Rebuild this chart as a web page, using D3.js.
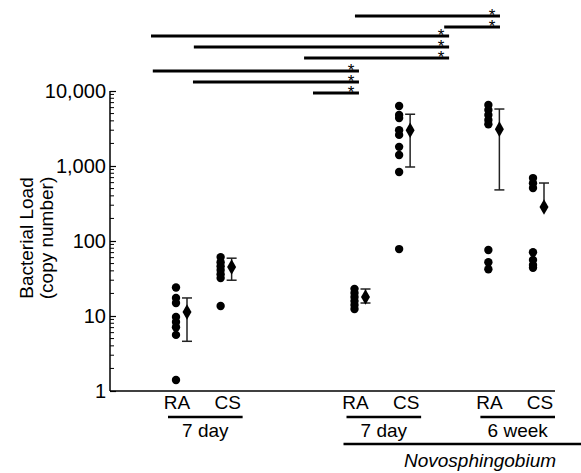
<!DOCTYPE html>
<html>
<head>
<meta charset="utf-8">
<script src="https://cdn.jsdelivr.net/npm/d3@7"></script>
<style>
  body { margin: 0; background: #fff; }
  svg { display: block; font-family: "Liberation Sans", Arial, sans-serif; }
</style>
</head>
<body>
<div class="chart"></div>
<script>
// group order: 7 day RA, 7 day CS, Novo 7 day RA, Novo 7 day CS, Novo 6 week RA, Novo 6 week CS
var groupPos = [0, 1, 4, 5, 7, 8];
var groupNames = ["RA", "CS", "RA", "CS", "RA", "CS"];

var points = [
    [24, 17.4, 14.9, 9.7, 8.3, 7.1, 5.6, 1.4],
    [61, 52, 46, 41, 36, 32, 13.6],
    [23, 20.3, 17.9, 15.8, 14, 12.4],
    [6300, 4800, 4350, 3000, 2600, 1800, 1400, 830, 78],
    [6500, 5600, 4800, 4100, 3600, 76, 52, 42],
    [690, 590, 510, 71, 56, 48, 44]
];
var means = [11.3, 45, 17.9, 3000, 3100, 284];
var errTop = [17.4, 59, 22.9, 4900, 5750, 593];
var errBottom = [4.6, 30, 14.9, 970, 480, null];

var timeLabels = ["7 day", "7 day", "6 week"];
var organism = "Novosphingobium";

var yTicks = [1, 10, 100, 1000, 10000];

// significance brackets: [from, to] in group-position units, top row first
var brackets = [
    [4.01, 7.26],
    [6.01, 7.26],
    [-0.56, 6.12],
    [0.40, 6.12],
    [2.87, 6.12],
    [-0.52, 4.10],
    [0.38, 4.10],
    [3.07, 4.10]
];
var bracketRows = [16, 27, 36, 47, 58, 71, 82, 93];

var svgWidth = 581;
var svgHeight = 473;

var svg = d3.select(".chart")
    .append("svg")
    .attr("width", svgWidth)
    .attr("height", svgHeight);

var x = d3.scaleLinear().domain([0, 8]).range([176, 533]);
var y = d3.scaleLog().domain([1, 10000]).range([391, 91]);

var axisLeftX = 110;
var axisRightX = 555;

// y axis
var leftAxis = d3.axisRight(y)
    .tickValues(yTicks)
    .tickSize(6)
    .tickFormat("");

var yAxis = svg.append("g")
    .attr("transform", `translate(${axisLeftX}, 0)`)
    .call(leftAxis);
yAxis.select(".domain").attr("d", `M0,${y(10000)}V${y(1)}`).attr("stroke-width", 1.5);
yAxis.selectAll(".tick line").attr("stroke-width", 1.2);

var minor = [];
for (var dec = 1; dec < 10000; dec *= 10) {
    for (var m = 2; m <= 9; m++) minor.push(dec * m);
}
svg.append("g").selectAll("line")
    .data(minor)
    .enter()
    .append("line")
    .attr("x1", axisLeftX)
    .attr("x2", axisLeftX + 4)
    .attr("y1", d => y(d))
    .attr("y2", d => y(d))
    .attr("stroke", "#000")
    .attr("stroke-width", 1);

svg.append("g").selectAll("text")
    .data(yTicks)
    .enter()
    .append("text")
    .attr("x", axisLeftX - 4)
    .attr("y", d => y(d))
    .attr("dy", "0.36em")
    .attr("text-anchor", "end")
    .attr("font-size", "20px")
    .text(d => d3.format(",")(d));

// x axis baseline
svg.append("line")
    .attr("x1", axisLeftX)
    .attr("x2", axisRightX)
    .attr("y1", y(1))
    .attr("y2", y(1))
    .attr("stroke", "#000")
    .attr("stroke-width", 1.5);

// axis title
var title = svg.append("text")
    .attr("transform", `translate(33, ${238}) rotate(-90)`)
    .attr("text-anchor", "middle")
    .attr("font-size", "19px");
title.append("tspan").attr("x", 0).attr("dy", 0).text("Bacterial Load");
title.append("tspan").attr("x", 0).attr("dy", "1.05em").text("(copy number)");

// points
points.forEach(function(vals, i) {
    svg.append("g").selectAll("circle")
        .data(vals)
        .enter()
        .append("circle")
        .attr("cx", x(groupPos[i]))
        .attr("cy", d => y(d))
        .attr("r", 4.2)
        .attr("fill", "#000");
});

// error bars and means
var capW = 5;
means.forEach(function(mv, i) {
    var cx = x(groupPos[i]) + 11;
    var lo = errBottom[i] === null ? mv : errBottom[i];
    var g = svg.append("g").attr("stroke", "#222").attr("stroke-width", 1.5);
    g.append("line").attr("x1", cx).attr("x2", cx).attr("y1", y(errTop[i])).attr("y2", y(lo));
    g.append("line").attr("x1", cx - capW).attr("x2", cx + capW).attr("y1", y(errTop[i])).attr("y2", y(errTop[i]));
    if (errBottom[i] !== null) {
        g.append("line").attr("x1", cx - capW).attr("x2", cx + capW).attr("y1", y(lo)).attr("y2", y(lo));
    }
    svg.append("path")
        .attr("d", d3.symbol().type(d3.symbolDiamond).size(70)())
        .attr("transform", `translate(${cx}, ${y(mv)})`)
        .attr("fill", "#000");
});

// category labels
svg.append("g").selectAll("text")
    .data(groupNames)
    .enter()
    .append("text")
    .attr("x", (d, i) => x(groupPos[i]) + (d === "CS" ? 7 : 1))
    .attr("y", 409)
    .attr("text-anchor", "middle")
    .attr("font-size", "19px")
    .text(d => d);

for (var k = 0; k < 3; k++) {
    var x1 = x(groupPos[2 * k]) - 8;
    var x2 = x(groupPos[2 * k + 1]) + 22;
    svg.append("line")
        .attr("x1", x1).attr("x2", x2)
        .attr("y1", 417).attr("y2", 417)
        .attr("stroke", "#000").attr("stroke-width", 2.5);
    svg.append("text")
        .attr("x", (x1 + x2) / 2)
        .attr("y", 437)
        .attr("text-anchor", "middle")
        .attr("font-size", "19px")
        .text(timeLabels[k]);
}

svg.append("line")
    .attr("x1", x(groupPos[2]) - 11).attr("x2", svgWidth)
    .attr("y1", 444).attr("y2", 444)
    .attr("stroke", "#000").attr("stroke-width", 2.5);

svg.append("text")
    .attr("x", 480)
    .attr("y", 467)
    .attr("text-anchor", "middle")
    .attr("font-size", "19px")
    .attr("font-style", "italic")
    .text(organism);

// significance brackets
brackets.forEach(function(b, i) {
    var ly = bracketRows[i];
    svg.append("line")
        .attr("x1", x(b[0])).attr("x2", x(b[1]))
        .attr("y1", ly).attr("y2", ly)
        .attr("stroke", "#000").attr("stroke-width", 3);
    svg.append("text")
        .attr("x", x(b[1]) - 8)
        .attr("y", ly + 5)
        .attr("text-anchor", "middle")
        .attr("font-size", "17px")
        .text("*");
});
</script>
</body>
</html>
